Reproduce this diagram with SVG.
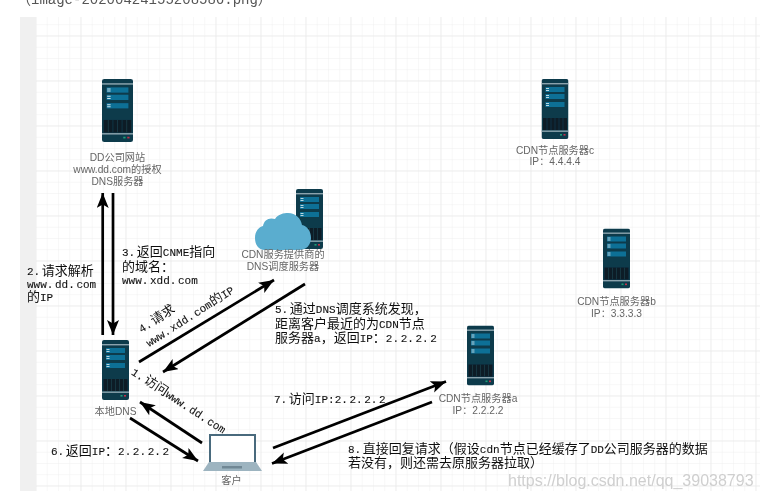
<svg xmlns="http://www.w3.org/2000/svg" width="760" height="499" viewBox="0 0 760 499">
<style>
.minor{stroke:#f0f0f0;stroke-width:1;fill:none}
.major{stroke:#e6e6e6;stroke-width:1;fill:none}
.a{stroke:#000;stroke-width:2.7;fill:none;marker-end:url(#arrow)}
.g{font-family:"Liberation Sans","Noto Sans CJK SC",sans-serif;font-size:10.2px;fill:#666;text-anchor:middle}
.t{font-family:"Liberation Mono","Noto Sans CJK SC",monospace;font-size:13px;fill:#111}
.l{font-family:"Liberation Mono",monospace;font-size:11px;word-spacing:-5px;stroke:#111;stroke-width:.1}
</style>
<defs>
<filter id="soft" x="0" y="0" width="100%" height="100%" filterUnits="objectBoundingBox"><feGaussianBlur stdDeviation="0.35"/></filter>
<marker id="arrow" markerUnits="userSpaceOnUse" markerWidth="18" markerHeight="14" refX="15" refY="6" orient="auto">
<path d="M0 0L15 6L0 12L3.5 6Z" fill="#000"/>
</marker>
<pattern id="gmin" width="11.25" height="11.25" patternUnits="userSpaceOnUse" x="35.5" y="35.5">
<path class="minor" d="M0 0V11.25M0 0H11.25"/>
</pattern>
<pattern id="gmaj" width="45" height="45" patternUnits="userSpaceOnUse" x="35.5" y="35.5">
<path class="major" d="M0 0V45M0 0H45"/>
</pattern>
<symbol id="srv" viewBox="0 0 27 60" preserveAspectRatio="none">
<rect width="27" height="60" rx="2" fill="#0f3b4c"/>
<rect y="4" width="27" height="1.4" fill="#8aa3ad"/>
<rect y="51.5" width="27" height="1.4" fill="#8aa3ad"/>
<rect x="4" y="8" width="19" height="5" fill="#0f6f96"/>
<rect x="4" y="15" width="19" height="5" fill="#0f6f96"/>
<rect x="4" y="23" width="19" height="5" fill="#0f6f96"/>
<path d="M4.500 9.500h3M4.500 11.500h3M4.500 16.500h3M4.500 18.500h3M4.500 24.500h3M4.500 26.500h3" stroke="#cfe3ea" stroke-width=".9"/>
<rect x="1.500" y="39" width="24" height="12" fill="#081e28"/>
<path d="M5.500 39v12M9.500 39v12M13.500 39v12M17.500 39v12M21.500 39v12" stroke="#1c3d4b" stroke-width=".7"/>
<rect x="18.500" y="55" width="2" height="1.600" fill="#1b9e77"/>
<rect x="22" y="55" width="2" height="1.600" fill="#c0304a"/>
</symbol>
</defs>
<rect width="760" height="499" fill="#fff"/>
<g id="diagram" filter="url(#soft)">
<g id="canvas">
<rect x="20" y="17" width="16" height="474" fill="#f0f0f0"/>
<rect x="36" y="17" width="724" height="474" fill="url(#gmin)"/>
<rect x="36" y="17" width="724" height="474" fill="url(#gmaj)"/>
</g>
<text x="17" y="4" style="font-family:'Liberation Mono','Noto Sans CJK SC',monospace;font-size:14px;fill:#555">（image-20200424155208586.png）</text>

<g id="dd-auth">
<use href="#srv" x="102" y="79" width="31" height="63"/>
<text class="g"><tspan x="117.500" y="160.500">DD公司网站</tspan><tspan x="117.500" y="172.500">www.dd.com的授权</tspan><tspan x="117.500" y="184.500">DNS服务器</tspan></text>
</g>
<g id="cdn-dns">
<use href="#srv" x="296" y="189" width="27" height="60"/>
<path fill="#5aadcf" d="M265 250C258 250 255 244 255 238C255 231 259 227 263 226C264 220 269 217 275 219C278 214 284 213 288 213C296 213 301 219 302 225C307 226 311 231 311 238C311 245 306 250 300 250Z"/>
<text class="g"><tspan x="283" y="258">CDN服务提供商的</tspan><tspan x="283" y="269.500">DNS调度服务器</tspan></text>
</g>
<g id="cdn-c">
<use href="#srv" x="541.500" y="79" width="27" height="60"/>
<text class="g"><tspan x="555" y="153.500">CDN节点服务器c</tspan><tspan x="555" y="165">IP：4.4.4.4</tspan></text>
</g>
<g id="cdn-b">
<use href="#srv" x="603" y="228.500" width="27" height="60"/>
<text class="g"><tspan x="616.500" y="305">CDN节点服务器b</tspan><tspan x="616.500" y="317">IP：3.3.3.3</tspan></text>
</g>
<g id="cdn-a">
<use href="#srv" x="467" y="325.500" width="27" height="60"/>
<text class="g"><tspan x="478" y="402">CDN节点服务器a</tspan><tspan x="478" y="414">IP：2.2.2.2</tspan></text>
</g>
<g id="local-dns">
<use href="#srv" x="102" y="340" width="27" height="60"/>
<text class="g" x="115.500" y="415">本地DNS</text>
</g>
<g id="client">
<rect x="210" y="435" width="45" height="28" fill="#fff" stroke="#4a6a7d" stroke-width="2"/>
<path d="M209 462H256L262 471H203Z" fill="#9db4c0"/>
<rect x="222" y="466" width="20" height="2.500" fill="#6f8794"/>
<text class="g" x="231.500" y="484">客户</text>
</g>

<g id="connectors">
<path class="a" d="M102.700 335V193"/>
<path class="a" d="M113 193V335"/>
<path class="a" d="M139 362L274 280"/>
<path class="a" d="M305 284L163 372"/>
<path class="a" d="M202 443L140 402"/>
<path class="a" d="M130 418L198 461"/>
<path class="a" d="M273 448L446 381.500"/>
<path class="a" d="M432 402L272 463.500"/>
</g>

<g id="labels">
<text class="t"><tspan x="27" y="275"><tspan class="l">2. </tspan>请求解析</tspan><tspan x="27" y="288" class="l">www. dd. com</tspan><tspan x="27" y="301">的<tspan class="l">IP</tspan></tspan></text>
<text class="t"><tspan x="122" y="256"><tspan class="l">3. </tspan>返回<tspan class="l">CNME</tspan>指向</tspan><tspan x="122" y="271">的域名：</tspan><tspan x="122" y="284" class="l">www. xdd. com</tspan></text>
<text class="t" transform="translate(141.500 333) rotate(-32)"><tspan class="l">4. </tspan>请求</text>
<text class="t" transform="translate(149 347) rotate(-32.500)"><tspan class="l">www. xdd. com</tspan>的<tspan class="l">IP</tspan></text>
<text class="t" transform="translate(130.500 374) rotate(33)"><tspan class="l">1. </tspan>访问<tspan class="l">www. dd. com</tspan></text>
<text class="t"><tspan x="275" y="313"><tspan class="l">5. </tspan>通过<tspan class="l">DNS</tspan>调度系统发现，</tspan><tspan x="275" y="327.500">距离客户最近的为<tspan class="l">CDN</tspan>节点</tspan><tspan x="275" y="342">服务器<tspan class="l">a</tspan>，返回<tspan class="l">IP</tspan>：<tspan class="l">2. 2. 2. 2</tspan></tspan></text>
<text class="t" x="51" y="455"><tspan class="l">6. </tspan>返回<tspan class="l">IP</tspan>：<tspan class="l">2. 2. 2. 2</tspan></text>
<text class="t" x="274" y="403"><tspan class="l">7. </tspan>访问<tspan class="l">IP:2. 2. 2. 2</tspan></text>
<text class="t"><tspan x="348" y="452.500"><tspan class="l">8. </tspan>直接回复请求（假设<tspan class="l">cdn</tspan>节点已经缓存了<tspan class="l">DD</tspan>公司服务器的数据</tspan><tspan x="348" y="467">若没有，则还需去原服务器拉取）</tspan></text>
</g>
<text x="508" y="486" style="font-family:'Liberation Sans',sans-serif;font-size:16px;fill:#c4c4c4;opacity:.8">https://blog.csdn.net/qq_39038793</text>
</g>
</svg>
